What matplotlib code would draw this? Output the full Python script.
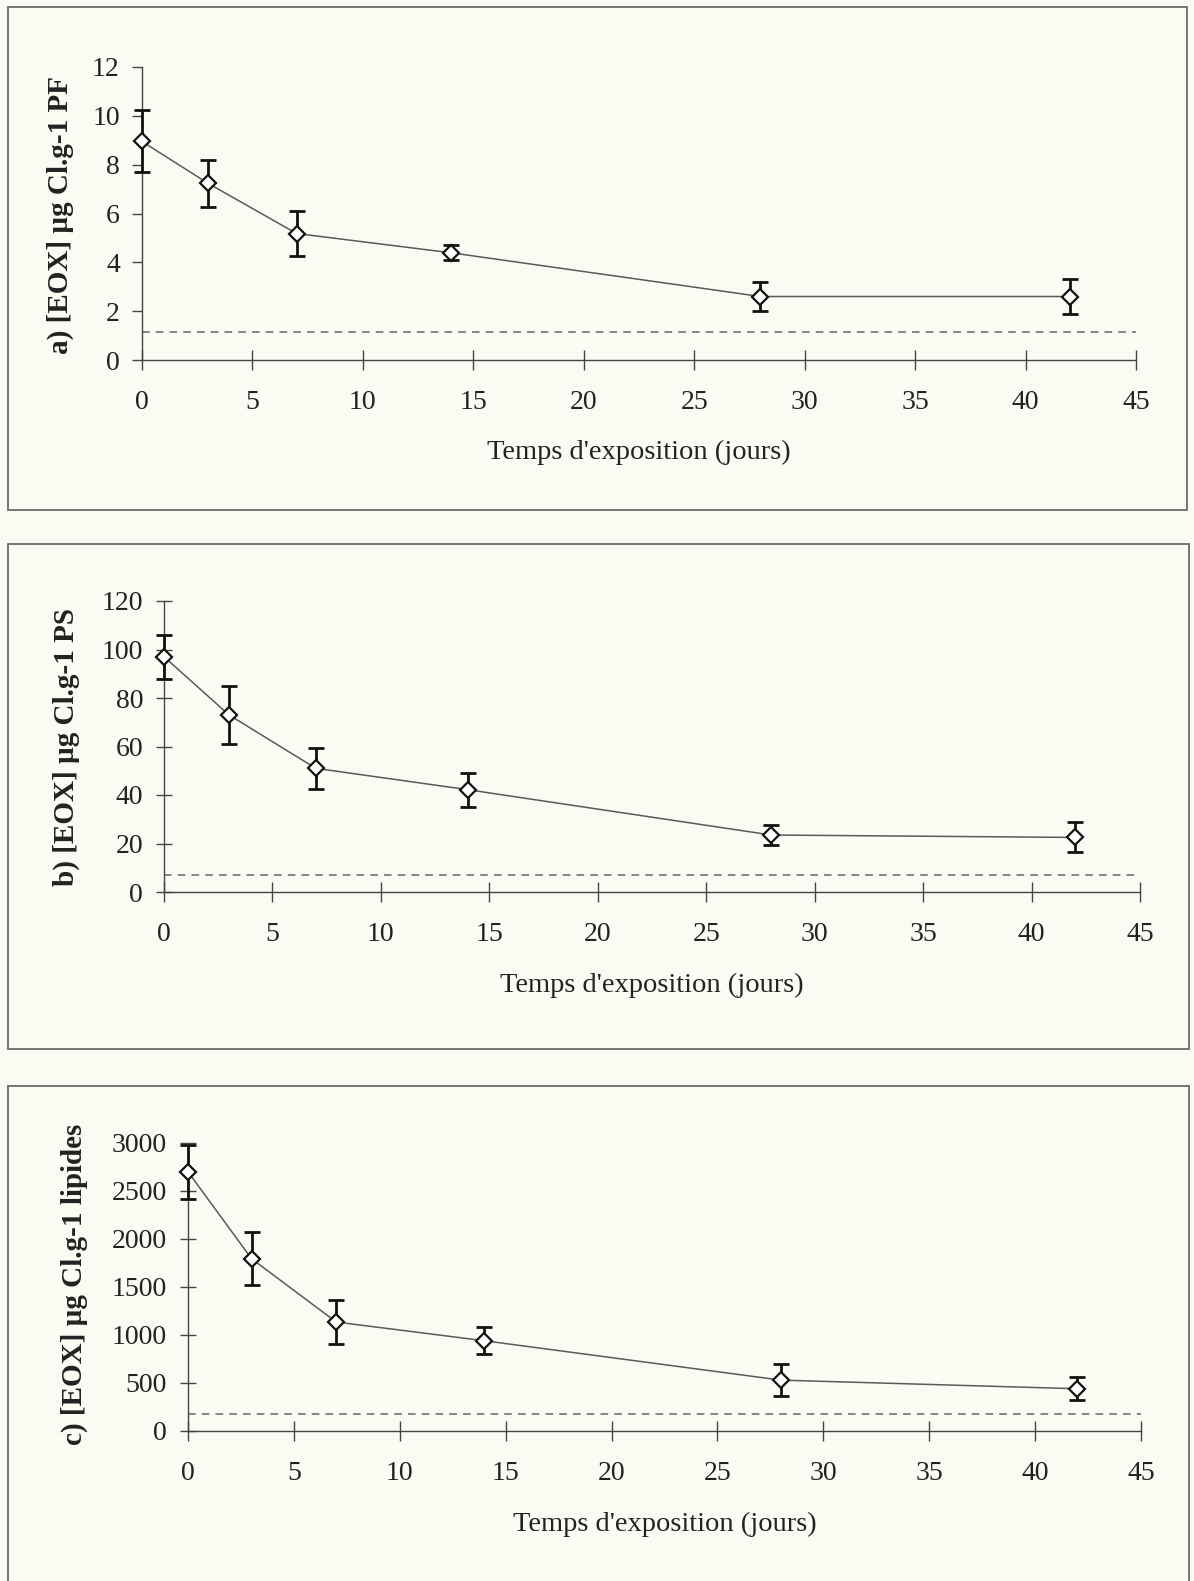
import matplotlib
matplotlib.use('Agg')
import matplotlib.pyplot as plt
from matplotlib.patches import Rectangle

plt.rcParams['font.family'] = ['Liberation Serif', 'DejaVu Serif']

# exposure time (days)
days = [0, 3, 7, 14, 28, 42]

# a) µg Cl / g fresh weight
eox_pf = [8.95, 7.23, 5.18, 4.39, 2.6, 2.6]
err_pf = [1.27, 0.95, 0.92, 0.30, 0.60, 0.70]
ctrl_pf = 1.15

# b) µg Cl / g dry weight
eox_ps = [97, 73, 51, 42.2, 23.5, 22.5]
err_ps = [9, 12, 8.5, 7, 4.1, 6.2]
ctrl_ps = 7.2

# c) µg Cl / g lipids
eox_lip = [2700, 1795, 1135, 940, 530, 440]
err_lip = [280, 275, 230, 140, 167, 121]
ctrl_lip = 180

ylabels = ["a) [EOX] µg Cl.g-1 PF",
           "b) [EOX] µg Cl.g-1 PS",
           "c) [EOX] µg Cl.g-1 lipides"]
yticks = [[0, 2, 4, 6, 8, 10, 12],
          [0, 20, 40, 60, 80, 100, 120],
          [0, 500, 1000, 1500, 2000, 2500, 3000]]
xticks = [0, 5, 10, 15, 20, 25, 30, 35, 40, 45]
xlabel = "Temps d'exposition (jours)"

W, H = 1194, 1581
fig = plt.figure(figsize=(W / 100, H / 100), dpi=100)
fig.patch.set_facecolor('#fbfaf3')

# pixel layout: (x of day 0, x of day 45, y of value 0, y of top value)
layout = [(142, 1136, 360, 67),
          (164, 1140, 892, 601),
          (188, 1141, 1431, 1143)]
# boxes: (left, top, right, bottom)
boxes = [(8, 7, 1187, 510),
         (8, 544, 1189, 1049),
         (8, 1086, 1189, 1600)]
ylab_pos = [(60, 215), (66, 747), (74, 1284)]
xlab_y = [452, 985, 1524]

series = [(eox_pf, err_pf, ctrl_pf),
          (eox_ps, err_ps, ctrl_ps),
          (eox_lip, err_lip, ctrl_lip)]

for i, (vals, errs, ctrl) in enumerate(series):
    l, t, r, b = boxes[i]
    fig.patches.append(Rectangle((l / W, 1 - b / H), (r - l) / W, (b - t) / H,
                                 transform=fig.transFigure, fill=False,
                                 ec='#6a6a6a', lw=1.3))
    x0, x1, y0, y1 = layout[i]
    ax = fig.add_axes([x0 / W, 1 - y0 / H, (x1 - x0) / W, (y0 - y1) / H])
    ax.patch.set_alpha(0)
    ax.set_xlim(0, 45)
    ax.set_ylim(0, yticks[i][-1])
    for s in ['top', 'right']:
        ax.spines[s].set_visible(False)
    for s in ['left', 'bottom']:
        ax.spines[s].set_color('#444')
        ax.spines[s].set_linewidth(1.0)
        ax.spines[s].set_clip_on(False)

    ax.plot([0, 45], [ctrl, ctrl], ls=(0, (5, 4)), color='#666', lw=1.1)
    ax.plot(days, vals, color='#5a5a5a', lw=1.1, zorder=2)
    ax.errorbar(days, vals, yerr=errs, fmt='none', ecolor='#111',
                elinewidth=2, capsize=6, capthick=2, zorder=3, clip_on=False)
    ax.plot(days, vals, 'D', ms=8.5, mfc='white', mec='#111', mew=1.6,
            zorder=4, clip_on=False)

    ax.set_xticks(xticks)
    ax.set_yticks(yticks[i])
    ax.tick_params(axis='x', direction='inout', length=14, width=1,
                   color='#444', pad=14.5, labelsize=20, labelcolor='#222')
    ax.tick_params(axis='y', direction='out' if i == 0 else 'inout',
                   length=7 if i == 0 else 12, width=1, color='#444',
                   pad=9, labelsize=20, labelcolor='#222')

    fig.text(ylab_pos[i][0] / W, 1 - ylab_pos[i][1] / H, ylabels[i],
             rotation=90, ha='center', va='center', fontsize=21,
             fontweight='bold', color='#222')
    fig.text((x0 + x1) / 2 / W, 1 - xlab_y[i] / H, xlabel,
             ha='center', va='center', fontsize=20.5, color='#222')

fig.savefig('out.png', dpi=100, facecolor=fig.get_facecolor())
